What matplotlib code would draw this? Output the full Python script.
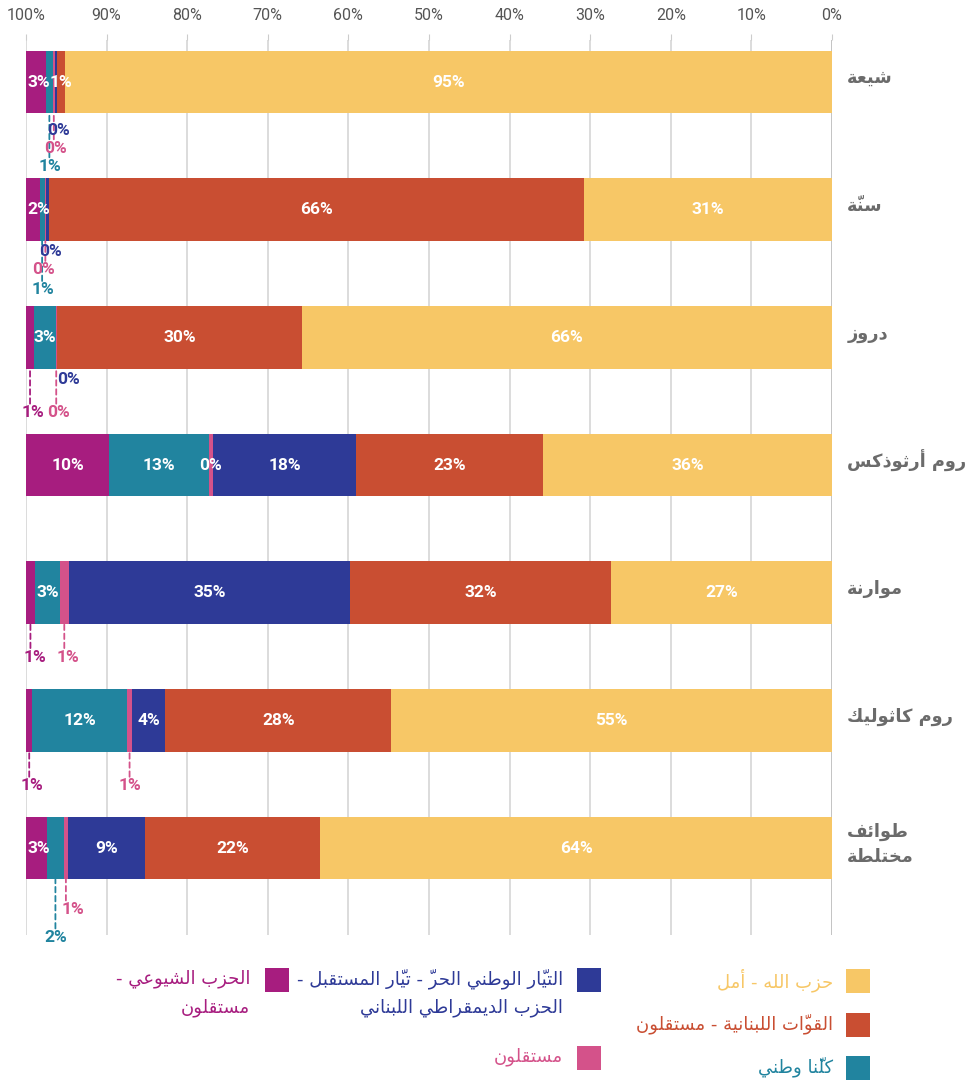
import matplotlib
matplotlib.use('Agg')
import matplotlib.pyplot as plt
from matplotlib.patches import Rectangle

# ---- data -------------------------------------------------------------
groups = ['شيعة', 'سنّة', 'دروز', 'روم أرثوذكس', 'موارنة', 'روم كاثوليك', 'طوائف\nمختلطة']

party_names = ['حزب الله - أمل',
               'القوّات اللبنانية - مستقلون',
               'التيّار الوطني الحرّ - تيّار المستقبل -\nالحزب الديمقراطي اللبناني',
               'مستقلون',
               'كلّنا وطني',
               'الحزب الشيوعي -\nمستقلون']

hezbollah_amal = [95.2, 30.8, 65.8, 35.9, 27.4, 54.7, 63.5]
lf_indep = [0.9, 66.3, 30.3, 23.1, 32.4, 28.0, 21.7]
fpm_future_pdl = [0.3, 0.4, 0.1, 17.8, 34.9, 4.1, 9.6]
independents = [0.3, 0.2, 0.1, 0.5, 1.1, 0.7, 0.5]
kulluna_watani = [0.8, 0.6, 2.7, 12.4, 3.1, 11.7, 2.1]
communist_indep = [2.5, 1.7, 1.0, 10.3, 1.1, 0.8, 2.6]

# rounded numbers as printed on the chart
shown_hezbollah_amal = [95, 31, 66, 36, 27, 55, 64]
shown_lf_indep = [1, 66, 30, 23, 32, 28, 22]
shown_fpm_future_pdl = [0, 0, 0, 18, 35, 4, 9]
shown_independents = [0, 0, 0, 0, 1, 1, 1]
shown_kulluna_watani = [1, 1, 3, 13, 3, 12, 2]
shown_communist_indep = [3, 2, 1, 10, 1, 1, 3]

xticks = [100, 90, 80, 70, 60, 50, 40, 30, 20, 10, 0]

series = [hezbollah_amal, lf_indep, fpm_future_pdl, independents, kulluna_watani, communist_indep]
shown = [shown_hezbollah_amal, shown_lf_indep, shown_fpm_future_pdl,
         shown_independents, shown_kulluna_watani, shown_communist_indep]
colors = ['#F7C766', '#C94E32', '#2E3A97', '#D4528A', '#21849F', '#A71D7F']

# labels that sit under the bar: (row, series) -> (dx px, dy px below bar)
callouts = {
    (0, 2): (2, 17), (0, 3): (2, 35), (0, 4): (1, 53),
    (1, 2): (3, 11), (1, 3): (-2, 29), (1, 4): (1, 49),
    (2, 2): (11, 11), (2, 3): (2, 44), (2, 5): (3, 44),
    (4, 3): (4, 33), (4, 5): (5, 33),
    (5, 3): (0, 34), (5, 5): (3, 34),
    (6, 3): (7, 30), (6, 4): (0, 58),
}

# ---- minimal arabic shaping (matplotlib has no text shaping) ----------
_counts = [1, 2, 2, 2, 2, 4, 2, 4, 2, 4, 4, 4, 4, 4, 2, 2, 2, 2, 4, 4, 4, 4, 4, 4, 4, 4,
           4, 4, 4, 4, 4, 4, 4, 2, 2, 4]
_letters = [chr(c) for c in range(0x621, 0x63B)] + [chr(c) for c in range(0x641, 0x64B)]
FORMS = {}
_start = 0xFE80
for ch, n in zip(_letters, _counts):
    FORMS[ch] = [chr(_start + k) for k in range(n)]
    _start += n
LAM_ALEF = {'\u0622': 0xFEF5, '\u0623': 0xFEF7, '\u0625': 0xFEF9, '\u0627': 0xFEFB}


def joins(c):
    return c in FORMS and c != '\u0621'


def dual(c):
    return c in FORMS and len(FORMS[c]) == 4


def shape(line):
    cl = []
    for ch in line:
        if '\u064b' <= ch <= '\u0652' and cl:
            cl[-1][1] += ch
        else:
            cl.append([ch, ''])
    out = []
    k = 0
    while k < len(cl):
        c, marks = cl[k]
        prv = cl[k - 1][0] if k > 0 else ''
        link_prev = dual(prv) and joins(c)
        if c == '\u0644' and k + 1 < len(cl) and cl[k + 1][0] in LAM_ALEF:
            out.append(marks + cl[k + 1][1] + chr(LAM_ALEF[cl[k + 1][0]] + link_prev))
            k += 2
            continue
        if joins(c):
            nxt = cl[k + 1][0] if k + 1 < len(cl) else ''
            link_next = dual(c) and joins(nxt)
            f = FORMS[c]
            if link_prev and link_next:
                c = f[3]
            elif link_prev:
                c = f[1]
            elif link_next:
                c = f[2]
            else:
                c = f[0]
        # marks go first so they are drawn over the letter that follows them
        out.append(marks + c)
        k += 1
    return ''.join(reversed(out))


def ar(text):
    return '\n'.join(shape(l) for l in text.split('\n'))


AR_FONT = ['DejaVu Sans']
PCT_FONT = ['Roboto', 'DejaVu Sans']

# ---- figure -----------------------------------------------------------
W, H = 972, 1083
fig = plt.figure(figsize=(W / 100, H / 100), dpi=100)
ax = fig.add_axes([26 / W, 1 - 935 / H, 806 / W, 895 / H])

rows = list(range(len(groups)))
bar_h = 0.49
left = [0.0] * len(groups)
for s, vals in enumerate(series):
    ax.barh(rows, vals, left=left, height=bar_h, color=colors[s], zorder=2, linewidth=0)
    for r in rows:
        cx = left[r] + vals[r] / 2
        txt = f'{shown[s][r]}%'
        if (r, s) in callouts:
            dx, dy = callouts[(r, s)]
            if dy > 20:
                ax.annotate('', xy=(cx, r + bar_h / 2), xytext=(0, -(dy - 9) * 0.72),
                            textcoords='offset points',
                            arrowprops=dict(arrowstyle='-', color=colors[s], lw=1.3,
                                            ls=(0, (3, 2)), shrinkA=0, shrinkB=0), zorder=3)
            ax.annotate(txt, xy=(cx, r + bar_h / 2), xytext=(dx * 0.72, -dy * 0.72),
                        textcoords='offset points', ha='center', va='center',
                        color=colors[s], fontsize=12.5, fontweight='bold', family=PCT_FONT,
                        zorder=4)
        elif cx > 98:
            # too close to the bar start: pin the label to the bar's left end
            ax.annotate(txt, xy=(100, r), xytext=(1, 0), textcoords='offset points',
                        ha='left', va='center', color='white', fontsize=12.5,
                        fontweight='bold', family=PCT_FONT, zorder=4)
        else:
            ax.text(cx, r, txt, ha='center', va='center', color='white', fontsize=12.5,
                    fontweight='bold', family=PCT_FONT, zorder=4)
    left = [a + b for a, b in zip(left, vals)]

ax.set_xlim(100, 0)
ax.set_ylim(6.68, -0.329)
ax.set_yticks([])
ax.set_xticks(xticks)
ax.set_xticklabels([f'{t}%' for t in xticks], family=PCT_FONT, fontsize=11.5, color='#555555')
ax.xaxis.tick_top()
ax.tick_params(axis='x', length=4, color='#cccccc', pad=8)
ax.grid(axis='x', color='#d6d6d6', lw=1.2, zorder=0)
ax.set_axisbelow(True)
for sp in ax.spines.values():
    sp.set_visible(False)
ax.axvline(0, color='#c4c4c4', lw=1.4, zorder=1)

for r, g in enumerate(groups):
    ax.text(1.019, r - 0.03, ar(g), transform=ax.get_yaxis_transform(), ha='left', va='center',
            fontsize=12.8, fontweight='bold', color='#6b6b6b', family=AR_FONT,
            linespacing=1.5)

# ---- legend (hand placed, in pixels) ---------------------------------
def fx(x):
    return x / W


def fy(y):
    return 1 - y / H


legend_spots = [(846, 969, 833), (846, 1013, 833), (577, 968, 563),
                (577, 1046, 563), (846, 1056, 833), (265, 968, 250)]
for s, (sx, sy, tx) in enumerate(legend_spots):
    fig.add_artist(Rectangle((fx(sx), fy(sy + 24)), 24 / W, 24 / H,
                             transform=fig.transFigure, color=colors[s], lw=0))
    for i, line in enumerate(party_names[s].split('\n')):
        fig.text(fx(tx), fy(sy + 11 + 29 * i), shape(line), ha='right', va='center',
                 fontsize=13, color=colors[s], family=AR_FONT)

fig.savefig('out.png', dpi=100)
